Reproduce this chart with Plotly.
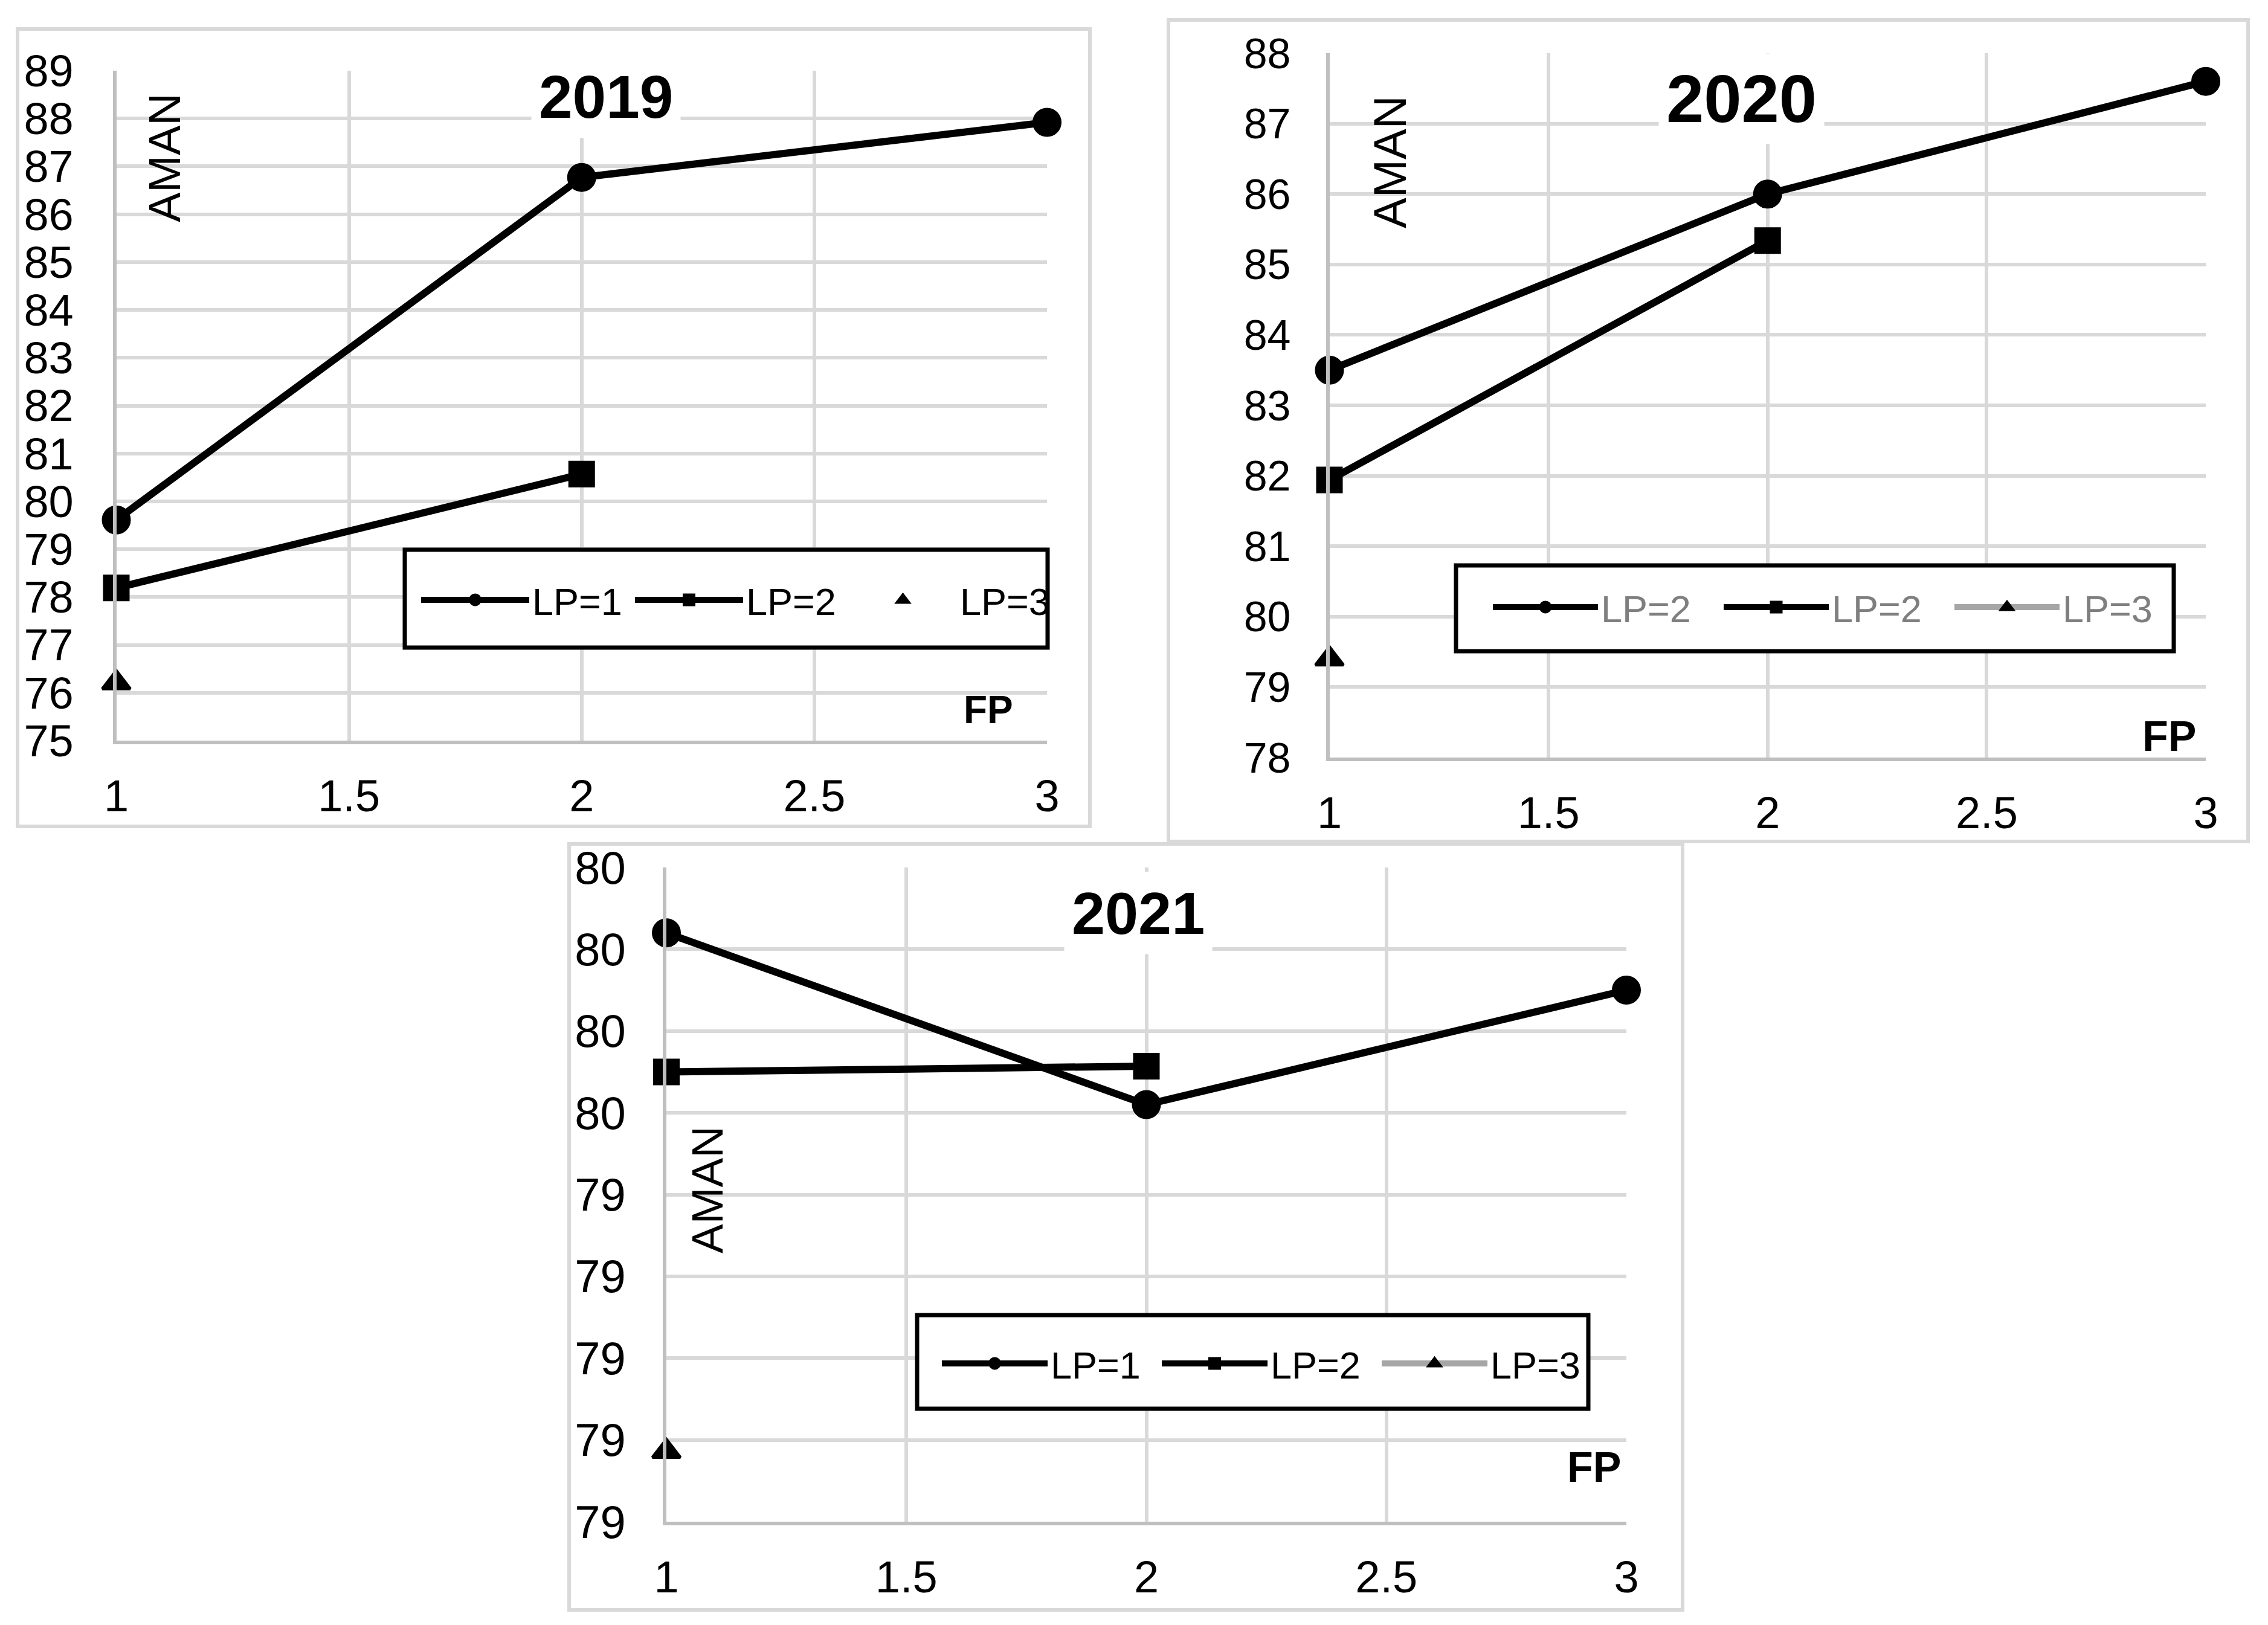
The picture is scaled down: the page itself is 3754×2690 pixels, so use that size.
import plotly.graph_objects as go

# ---------------- data ----------------
fp_lp1 = [1, 2, 3]
fp_lp2 = [1, 2]
fp_lp3 = [1]

aman_2019_lp1 = [79.61, 86.77, 87.92]
aman_2019_lp2 = [78.19, 80.57]
aman_2019_lp3 = [76.21]

aman_2020_lp1 = [83.5, 86.0, 87.6]
aman_2020_lp2 = [81.94, 85.34]
aman_2020_lp3 = [79.4]

aman_2021_lp1 = [79.72, 79.51, 79.65]
aman_2021_lp2 = [79.55, 79.557]
aman_2021_lp3 = [79.086]

names_2019 = ["LP=1", "LP=2", "LP=3"]
names_2020 = ["LP=2", "LP=2", "LP=3"]
names_2021 = ["LP=1", "LP=2", "LP=3"]

x_ticks = [1, 1.5, 2, 2.5, 3]
y_ticks_2019 = [75, 76, 77, 78, 79, 80, 81, 82, 83, 84, 85, 86, 87, 88, 89]
y_ticks_2020 = [78, 79, 80, 81, 82, 83, 84, 85, 86, 87, 88]
y_ticks_2021 = [79.0, 79.1, 79.2, 79.3, 79.4, 79.5, 79.6, 79.7, 79.8]
y_text_2021 = ["79", "79", "79", "79", "79", "80", "80", "80", "80"]

titles = ["2019", "2020", "2021"]

# ---------------- layout helpers ----------------
W, H = 3754, 2690
OFF = 8                      # default page body margin
FW, FH = W - 2 * OFF, H - 2 * OFF


def px(x):
    return (x - OFF) / FW


def py(y):
    return 1 - (y - OFF) / FH


GRID = "#D9D9D9"
AXL = "#BFBFBF"
FONT = "Liberation Sans, Arial, sans-serif"
BLACK = "#000000"
GRAY_LINE = "#A6A6A6"
GRAY_TEXT = "#7F7F7F"

fig = go.Figure()

panels = [
    dict(sfx="", leg="legend", names=names_2019,
         ys=[aman_2019_lp1, aman_2019_lp2, aman_2019_lp3], lp3_line=False),
    dict(sfx="2", leg="legend2", names=names_2020,
         ys=[aman_2020_lp1, aman_2020_lp2, aman_2020_lp3], lp3_line=True),
    dict(sfx="3", leg="legend3", names=names_2021,
         ys=[aman_2021_lp1, aman_2021_lp2, aman_2021_lp3], lp3_line=True),
]

MLINE = dict(color=BLACK, width=5)

for p in panels:
    xa = "x" + p["sfx"]
    ya = "y" + p["sfx"]
    y1, y2, y3 = p["ys"]
    n1, n2, n3 = p["names"]
    fig.add_trace(go.Scatter(
        x=fp_lp1, y=y1, name=n1, mode="lines+markers", xaxis=xa, yaxis=ya,
        legend=p["leg"], cliponaxis=False,
        line=dict(color=BLACK, width=12),
        marker=dict(symbol="circle", size=43, color=BLACK, line=MLINE)))
    fig.add_trace(go.Scatter(
        x=fp_lp2, y=y2, name=n2, mode="lines+markers", xaxis=xa, yaxis=ya,
        legend=p["leg"], cliponaxis=False,
        line=dict(color=BLACK, width=12),
        marker=dict(symbol="square", size=39, color=BLACK, line=MLINE)))
    fig.add_trace(go.Scatter(
        x=fp_lp3, y=y3, name=n3,
        mode="lines+markers" if p["lp3_line"] else "markers",
        xaxis=xa, yaxis=ya, legend=p["leg"], cliponaxis=False,
        line=dict(color=GRAY_LINE, width=12),
        marker=dict(symbol="triangle-up", size=40, color=BLACK, line=MLINE)))


def xaxis_cfg(x0, x1, fsize, anchor, tlen):
    return dict(domain=[px(x0), px(x1)], range=[1, 3], tickvals=x_ticks,
                showgrid=True, gridcolor=GRID, gridwidth=6, zeroline=False,
                showline=True, linecolor=AXL, linewidth=6,
                ticks="outside", ticklen=tlen, tickcolor="rgba(0,0,0,0)",
                tickfont=dict(family=FONT, size=fsize, color=BLACK),
                anchor=anchor, fixedrange=True, automargin=False)


def yaxis_cfg(y0, y1, rng, vals, fsize, tlen, anchor, text=None):
    d = dict(domain=[py(y1), py(y0)], range=rng, tickvals=vals,
             showgrid=True, gridcolor=GRID, gridwidth=6, zeroline=False,
             showline=True, linecolor=AXL, linewidth=6,
             ticks="outside", ticklen=tlen, tickcolor="rgba(0,0,0,0)",
             tickfont=dict(family=FONT, size=fsize, color=BLACK),
             anchor=anchor, fixedrange=True, automargin=False)
    if text is not None:
        d["ticktext"] = text
    return d


fig.update_layout(
    xaxis=xaxis_cfg(192.5, 1733, 74, "y", 22),
    yaxis=yaxis_cfg(117, 1226, [75, 89], y_ticks_2019, 74, 50, "x"),
    xaxis2=xaxis_cfg(2200.5, 3651, 74, "y2", 22),
    yaxis2=yaxis_cfg(88, 1254, [78, 88], y_ticks_2020, 70, 44, "x2"),
    xaxis3=xaxis_cfg(1103, 2692, 74, "y3", 22),
    yaxis3=yaxis_cfg(1436, 2519, [79.0, 79.8], y_ticks_2021, 76, 46, "x3",
                     text=y_text_2021),
)


def legend_cfg(x_line, y_mid, iw, ew, color):
    return dict(orientation="h", x=px(x_line - 5), xanchor="left",
                y=py(y_mid), yanchor="middle",
                bgcolor="rgba(0,0,0,0)", borderwidth=0,
                itemwidth=iw, entrywidth=ew, entrywidthmode="pixels",
                font=dict(family=FONT, size=63, color=color),
                itemclick=False, itemdoubleclick=False)


fig.update_layout(
    legend=legend_cfg(697, 993, 179, 160, BLACK),
    legend2=legend_cfg(2471, 1005, 174, 193, GRAY_TEXT),
    legend3=legend_cfg(1559, 2257, 175, 174, BLACK),
)

shapes = []
# panel frames
for (x0, y0, x1, y1) in [(29, 48, 1804, 1368), (1934, 33, 3721, 1393),
                         (942, 1397, 2785, 2665)]:
    shapes.append(dict(type="rect", xref="paper", yref="paper",
                       x0=px(x0), x1=px(x1), y0=py(y1), y1=py(y0),
                       line=dict(color=GRID, width=6), fillcolor="rgba(0,0,0,0)",
                       layer="below"))
# legend boxes
for (x0, y0, x1, y1) in [(670, 910, 1734, 1072), (2410, 936, 3598, 1078),
                         (1518, 2177, 2629, 2332)]:
    shapes.append(dict(type="rect", xref="paper", yref="paper",
                       x0=px(x0), x1=px(x1), y0=py(y1), y1=py(y0),
                       line=dict(color=BLACK, width=7), fillcolor="#FFFFFF",
                       layer="above"))

annotations = []
for (t, cx, cy, fs) in [(titles[0], 1003, 160, 100), (titles[1], 2882, 164, 112),
                        (titles[2], 1884, 1511, 99)]:
    annotations.append(dict(text="<b>%s</b>" % t, xref="paper", yref="paper",
                            x=px(cx), y=py(cy), xanchor="center", yanchor="middle",
                            showarrow=False, bgcolor="#FFFFFF", borderpad=12,
                            font=dict(family=FONT, size=fs, color=BLACK)))
for (cx, cy, fs) in [(272, 261, 74), (2300, 268, 76), (1170, 1970, 73)]:
    annotations.append(dict(text="AMAN", xref="paper", yref="paper",
                            x=px(cx), y=py(cy), xanchor="center", yanchor="middle",
                            textangle=-90, showarrow=False,
                            font=dict(family=FONT, size=fs, color=BLACK)))
for (cx, cy, fs) in [(1636, 1175, 64), (3590, 1219, 70), (2638, 2429, 70)]:
    annotations.append(dict(text="<b>FP</b>", xref="paper", yref="paper",
                            x=px(cx), y=py(cy), xanchor="center", yanchor="middle",
                            showarrow=False,
                            font=dict(family=FONT, size=fs, color=BLACK)))

fig.update_layout(
    width=FW, height=FH, autosize=False,
    margin=dict(l=0, r=0, t=0, b=0, pad=0, autoexpand=False),
    paper_bgcolor="#FFFFFF", plot_bgcolor="#FFFFFF",
    shapes=shapes, annotations=annotations,
    showlegend=True,
)

fig.write_html("out.html", config={"displayModeBar": False})
